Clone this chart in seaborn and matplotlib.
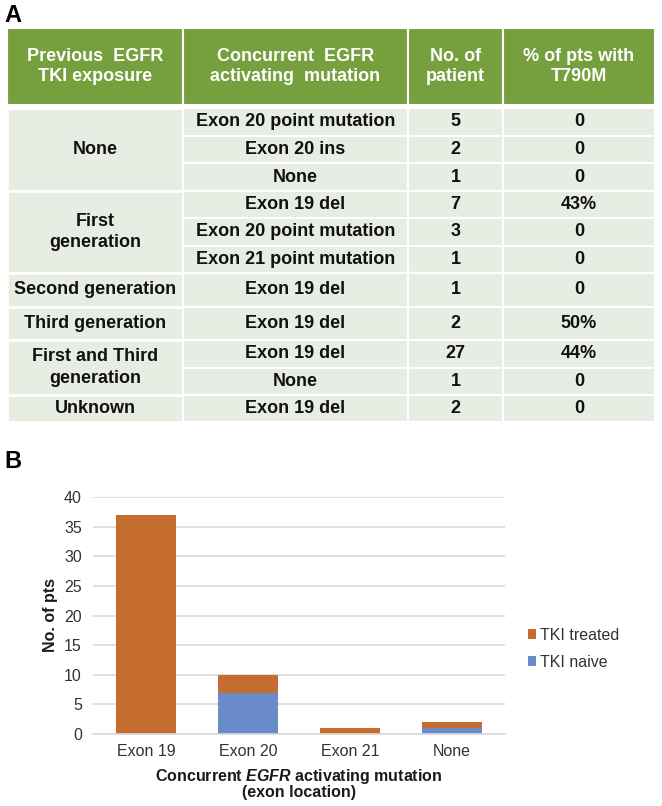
import matplotlib
matplotlib.use('Agg')
import matplotlib.pyplot as plt
import seaborn as sns
import pandas as pd
from matplotlib.patches import Rectangle, Patch

# ---- Panel A data (table) ----
header_labels = ["Previous  EGFR\nTKI exposure", "Concurrent  EGFR\nactivating  mutation",
                 "No. of\npatient", "% of pts with\nT790M"]
exposure_groups = ["None", "First\ngeneration", "Second generation", "Third generation",
                   "First and Third\ngeneration", "Unknown"]
group_sizes = [3, 3, 1, 1, 2, 1]
mutations = ["Exon 20 point mutation", "Exon 20 ins", "None",
             "Exon 19 del", "Exon 20 point mutation", "Exon 21 point mutation",
             "Exon 19 del", "Exon 19 del", "Exon 19 del", "None", "Exon 19 del"]
n_patients = [5, 2, 1, 7, 3, 1, 1, 2, 27, 1, 2]
pct_t790m = ["0", "0", "0", "43%", "0", "0", "0", "50%", "44%", "0", "0"]

# ---- Panel B data (stacked bars) ----
exon_cats = ["Exon 19", "Exon 20", "Exon 21", "None"]
tki_naive = [0, 7, 0, 1]
tki_treated = [37, 3, 1, 1]

# layout (pixels)
col_edges = [7, 183, 408, 503, 655]
header_top, header_bot = 28, 105
body_top = 108
row_heights = [27.7, 27.7, 27.6, 27.3, 27.3, 27.4, 34, 33, 27.5, 27.5, 27]

GREEN = "#76A03E"
BODY = "#E8EDE3"
ORANGE = "#C56D2F"
BLUE = "#6A8BC9"

plt.rcParams['font.family'] = ['Liberation Sans', 'DejaVu Sans']
plt.rcParams['mathtext.fontset'] = 'custom'
plt.rcParams['mathtext.bfit'] = 'Liberation Sans:italic:bold'
plt.rcParams['mathtext.rm'] = 'Liberation Sans:bold'

fig = plt.figure(figsize=(6.62, 8.06), dpi=100)

# table drawn in pixel coordinates
ax_t = fig.add_axes([0, 0, 1, 1])
ax_t.set_xlim(0, 662)
ax_t.set_ylim(806, 0)
ax_t.axis('off')

for i, lab in enumerate(header_labels):
    x0, x1 = col_edges[i], col_edges[i + 1]
    ax_t.add_patch(Rectangle((x0, header_top), x1 - x0, header_bot - header_top,
                             facecolor=GREEN, edgecolor='white', lw=1.5))
    ax_t.text((x0 + x1) / 2, (header_top + header_bot) / 2, lab, color='white',
              fontsize=13, fontweight='bold', ha='center', va='center', linespacing=1.3)

edges = [body_top]
for h in row_heights:
    edges.append(edges[-1] + h)

r = 0
for g, size in zip(exposure_groups, group_sizes):
    y0, y1 = edges[r], edges[r + size]
    ax_t.add_patch(Rectangle((col_edges[0], y0), col_edges[1] - col_edges[0], y1 - y0,
                             facecolor=BODY, edgecolor='white', lw=2))
    ax_t.text((col_edges[0] + col_edges[1]) / 2, (y0 + y1) / 2, g, fontsize=13,
              fontweight='bold', ha='center', va='center', color='#111111', linespacing=1.35)
    r += size

for k in range(len(mutations)):
    y0, y1 = edges[k], edges[k + 1]
    vals = [mutations[k], str(n_patients[k]), pct_t790m[k]]
    for j, v in enumerate(vals):
        x0, x1 = col_edges[j + 1], col_edges[j + 2]
        ax_t.add_patch(Rectangle((x0, y0), x1 - x0, y1 - y0,
                                 facecolor=BODY, edgecolor='white', lw=1.5))
        ax_t.text((x0 + x1) / 2, (y0 + y1) / 2, v, fontsize=13, fontweight='bold',
                  ha='center', va='center', color='#111111')

fig.text(0.006, 1 - 15 / 806, "A", fontsize=17, fontweight='bold', va='center')
fig.text(0.006, 1 - 461 / 806, "B", fontsize=17, fontweight='bold', va='center')

# ---- Panel B ----
ax = fig.add_axes([93 / 662, 1 - 734 / 806, 412 / 662, 237 / 806])
df = pd.DataFrame({"exon": exon_cats, "naive": tki_naive, "treated": tki_treated})
df["total"] = df["naive"] + df["treated"]

# stacked: total in orange, naive drawn over it in blue
sns.barplot(data=df, x="exon", y="total", color=ORANGE, saturation=1, width=0.59, ax=ax)
sns.barplot(data=df, x="exon", y="naive", color=BLUE, saturation=1, width=0.59, ax=ax)

ax.set_xlim(-0.52, 3.52)
ax.set_ylim(0, 40)
ax.set_yticks(range(0, 41, 5))
ax.yaxis.grid(True, color='#D9D9D9', lw=1.2)
ax.set_axisbelow(True)
for s in ['top', 'right', 'left']:
    ax.spines[s].set_visible(False)
ax.spines['bottom'].set_color('#D9D9D9')
ax.spines['bottom'].set_linewidth(1.2)
ax.tick_params(axis='both', length=0, labelsize=11.5, colors='#333333')
ax.tick_params(axis='y', pad=8)
ax.tick_params(axis='x', pad=7)

ax.set_ylabel("No. of pts", fontsize=11.5, fontweight='bold', color='#1a1a1a', labelpad=4)
ax.set_xlabel("Concurrent $\\mathbfit{EGFR}$ activating mutation\n(exon location)",
              fontsize=11.5, fontweight='bold', color='#1a1a1a', labelpad=6, linespacing=0.95)

handles = [Patch(facecolor=ORANGE, label="TKI treated"), Patch(facecolor=BLUE, label="TKI naive")]
ax.legend(handles=handles, loc='center left', bbox_to_anchor=(1.02, 0.36), frameon=False,
          fontsize=11.5, handlelength=0.55, handleheight=0.55, handletextpad=0.25,
          labelspacing=0.75, labelcolor='#333333')

fig.savefig("out.png", dpi=100)
